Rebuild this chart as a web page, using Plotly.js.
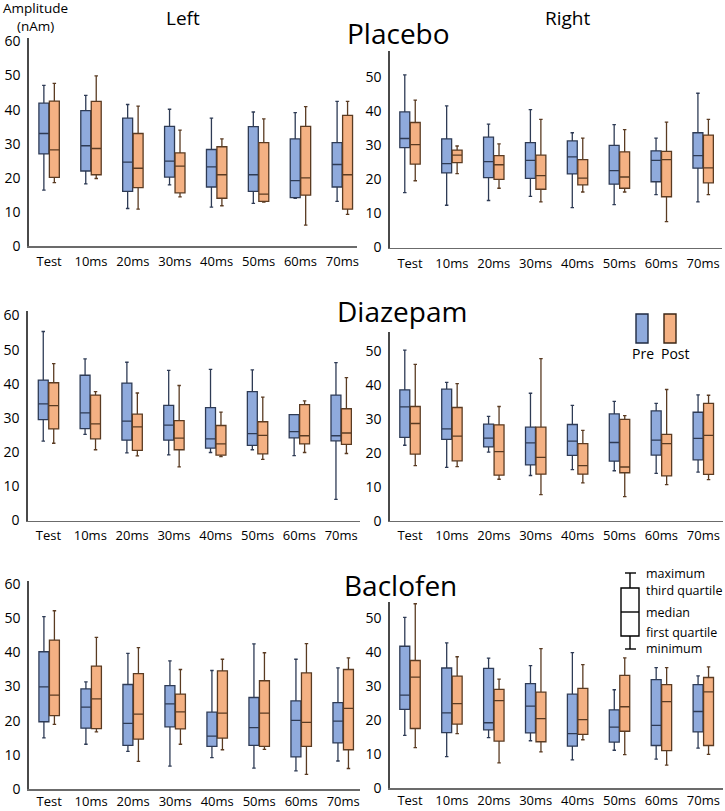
<!DOCTYPE html>
<html>
<head>
<meta charset="utf-8">
<script src="https://cdn.plot.ly/plotly-3.0.1.min.js"></script>
<style>html,body{margin:0;padding:0;background:#fff;}#chart{width:725px;height:811px;}</style>
</head>
<body>
<div id="chart"></div>
<script>
// ---------- DATA ----------
const categories = ["Test", "10ms", "20ms", "30ms", "40ms", "50ms", "60ms", "70ms"];
const seriesNames = ["Pre", "Post"];
const panelTitles = ["Placebo", "Diazepam", "Baclofen"];
const sideTitles = ["Left", "Right"];
const leftTicks = [0, 10, 20, 30, 40, 50, 60];
const rightTicks = [0, 10, 20, 30, 40, 50];
const keyLabels = ["maximum", "third quartile", "median", "first quartile", "minimum"];

// Placebo - Left
const placeboLeftPreMax = [47.1, 44.2, 41.5, 40.1, 37.5, 39.3, 39.1, 42.4];
const placeboLeftPreQ3  = [41.9, 39.7, 37.5, 35.1, 28.3, 35.0, 31.4, 30.3];
const placeboLeftPreMed = [33.0, 29.4, 24.6, 24.9, 23.2, 20.9, 19.2, 23.9];
const placeboLeftPreQ1  = [27.0, 22.0, 16.0, 20.2, 17.3, 16.0, 14.2, 17.3];
const placeboLeftPreMin = [16.4, 18.2, 11.0, 17.9, 11.4, 12.5, 14.0, 13.1];
const placeboLeftPostMax = [47.7, 49.9, 41.0, 34.0, 31.4, 37.3, 40.9, 42.4];
const placeboLeftPostQ3  = [42.5, 42.4, 33.0, 27.3, 29.1, 30.3, 35.1, 38.3];
const placeboLeftPostMed = [28.2, 28.6, 22.8, 23.4, 20.9, 15.2, 20.0, 20.9];
const placeboLeftPostQ1  = [20.1, 20.9, 17.1, 15.6, 14.0, 13.1, 14.9, 10.8];
const placeboLeftPostMin = [18.6, 19.8, 10.8, 14.4, 11.8, 12.9, 6.1, 9.3];

// Placebo - Right
const placeboRightPreMax = [50.7, 41.6, 36.2, 40.5, 33.7, 36.1, 32.1, 45.3];
const placeboRightPreQ3  = [39.8, 31.9, 32.4, 30.8, 31.3, 30.0, 28.4, 33.7];
const placeboRightPreMed = [32.0, 24.6, 25.2, 25.6, 26.6, 22.6, 25.6, 27.0];
const placeboRightPreQ1  = [29.3, 21.9, 20.5, 20.3, 21.6, 18.6, 19.3, 23.3];
const placeboRightPreMin = [16.1, 12.4, 13.8, 15.0, 11.7, 12.6, 15.5, 13.4];
const placeboRightPostMax = [43.3, 29.8, 30.4, 37.6, 32.1, 34.6, 36.8, 37.6];
const placeboRightPostQ3  = [36.7, 28.6, 27.0, 27.1, 25.8, 28.1, 28.2, 33.0];
const placeboRightPostMed = [30.2, 27.1, 24.3, 21.1, 20.4, 20.7, 25.8, 23.4];
const placeboRightPostQ1  = [24.5, 24.9, 20.0, 17.1, 18.4, 17.4, 14.9, 19.0];
const placeboRightPostMin = [19.6, 21.7, 17.4, 13.4, 16.3, 16.3, 7.6, 15.5];

// Diazepam - Left
const diazepamLeftPreMax = [55.3, 47.3, 46.3, 43.9, 44.2, 44.1, 31.0, 46.2];
const diazepamLeftPreQ3  = [41.1, 42.5, 40.2, 33.7, 33.0, 37.7, 31.0, 36.7];
const diazepamLeftPreMed = [34.1, 31.5, 29.1, 27.9, 23.9, 25.4, 26.0, 24.8];
const diazepamLeftPreQ1  = [29.5, 26.9, 23.5, 23.5, 21.2, 22.0, 24.2, 23.3];
const diazepamLeftPreMin = [23.2, 25.2, 19.8, 19.2, 19.9, 20.7, 19.0, 6.2];
const diazepamLeftPostMax = [45.9, 37.7, 37.3, 39.5, 31.7, 36.1, 35.0, 41.8];
const diazepamLeftPostQ3  = [40.3, 36.7, 31.1, 29.2, 27.8, 28.9, 33.9, 32.7];
const diazepamLeftPostMed = [33.6, 28.3, 27.4, 24.1, 22.4, 24.9, 24.8, 25.6];
const diazepamLeftPostQ1  = [26.8, 23.9, 20.5, 20.7, 19.1, 19.5, 22.4, 22.3];
const diazepamLeftPostMin = [22.6, 20.7, 18.9, 15.7, 18.7, 17.9, 19.9, 19.6];

// Diazepam - Right
const diazepamRightPreMax = [50.2, 40.7, 30.7, 37.5, 33.9, 35.1, 34.5, 37.0];
const diazepamRightPreQ3  = [38.5, 38.7, 28.4, 27.5, 28.3, 31.4, 32.3, 31.9];
const diazepamRightPreMed = [33.5, 27.0, 24.3, 22.9, 23.4, 23.0, 23.7, 24.2];
const diazepamRightPreQ1  = [24.5, 23.9, 21.7, 16.4, 19.2, 17.5, 19.3, 17.9];
const diazepamRightPreMin = [22.2, 15.7, 20.2, 13.3, 15.0, 14.7, 13.9, 14.3];
const diazepamRightPostMax = [46.0, 40.3, 33.6, 47.7, 26.6, 30.9, 38.6, 36.9];
const diazepamRightPostQ3  = [33.6, 33.3, 28.2, 27.5, 22.7, 29.8, 25.4, 34.5];
const diazepamRightPostMed = [28.6, 24.9, 20.3, 18.6, 16.2, 15.8, 22.7, 25.1];
const diazepamRightPostQ1  = [19.6, 17.6, 13.4, 13.7, 13.7, 14.1, 13.2, 13.6];
const diazepamRightPostMin = [16.2, 15.9, 12.2, 7.7, 11.1, 7.1, 10.6, 12.1];

// Baclofen - Left
const baclofenLeftPreMax = [50.5, 31.4, 39.7, 37.5, 34.7, 42.5, 38.0, 35.5];
const baclofenLeftPreQ3  = [40.2, 29.3, 30.6, 30.3, 22.5, 26.8, 25.8, 25.3];
const baclofenLeftPreMed = [29.9, 24.0, 19.2, 24.9, 15.5, 18.0, 20.1, 19.9];
const baclofenLeftPreQ1  = [19.7, 17.8, 12.8, 18.2, 12.5, 12.8, 9.4, 13.5];
const baclofenLeftPreMin = [15.0, 13.1, 11.0, 6.7, 9.2, 6.1, 5.3, 8.2];
const baclofenLeftPostMax = [52.2, 44.4, 41.4, 35.0, 38.0, 39.9, 42.6, 38.4];
const baclofenLeftPostQ3  = [43.6, 36.0, 33.8, 27.8, 34.6, 31.7, 34.0, 35.0];
const baclofenLeftPostMed = [27.5, 26.4, 21.9, 22.6, 22.2, 22.2, 19.5, 23.6];
const baclofenLeftPostQ1  = [21.5, 17.7, 14.6, 17.6, 14.9, 12.5, 12.5, 11.5];
const baclofenLeftPostMin = [18.9, 16.7, 8.1, 13.1, 11.5, 11.6, 4.3, 6.0];

// Baclofen - Right
const baclofenRightPreMax = [50.2, 42.7, 38.2, 36.0, 39.8, 28.9, 35.4, 33.0];
const baclofenRightPreQ3  = [41.7, 35.3, 35.2, 30.7, 27.6, 23.0, 31.9, 30.4];
const baclofenRightPreMed = [27.3, 22.1, 19.2, 24.1, 16.0, 17.9, 18.4, 22.5];
const baclofenRightPreQ1  = [23.1, 16.3, 17.1, 16.2, 12.3, 13.5, 12.5, 16.5];
const baclofenRightPreMin = [15.5, 9.2, 14.8, 13.9, 8.3, 11.1, 8.5, 11.7];
const baclofenRightPostMax = [54.2, 38.6, 32.0, 41.0, 36.3, 38.3, 35.4, 35.6];
const baclofenRightPostQ3  = [37.5, 32.9, 29.0, 28.2, 29.3, 33.1, 30.4, 32.5];
const baclofenRightPostMed = [32.6, 24.8, 25.7, 20.4, 20.1, 23.9, 25.4, 28.3];
const baclofenRightPostQ1  = [17.5, 18.8, 13.8, 13.6, 15.8, 16.7, 11.0, 12.5];
const baclofenRightPostMin = [11.9, 16.0, 7.4, 10.6, 14.2, 9.8, 6.7, 9.9];

// ---------- STYLE ----------
const FONT = "Open Sans, Noto Sans, sans-serif";
const preFill = "#8FAADC", preLine = "#2E3B55";
const postFill = "#F4B183", postLine = "#5A3B22";
const W = 725, H = 811;
const px = x => x / W;
const py = y => 1 - y / H;

function boxTrace(name, xa, ya, mn, q1, md, q3, mx, fill, line) {
  return {
    type: "box", name: name, x: categories,
    lowerfence: mn, q1: q1, median: md, q3: q3, upperfence: mx,
    xaxis: xa, yaxis: ya, boxpoints: false,
    alignmentgroup: xa, offsetgroup: name,
    fillcolor: fill, line: {color: line, width: 1.3},
    whiskerwidth: 0.35, showlegend: false, hoverinfo: "y"
  };
}

const data = [
  boxTrace("Pre", "x", "y", placeboLeftPreMin, placeboLeftPreQ1, placeboLeftPreMed, placeboLeftPreQ3, placeboLeftPreMax, preFill, preLine),
  boxTrace("Post", "x", "y", placeboLeftPostMin, placeboLeftPostQ1, placeboLeftPostMed, placeboLeftPostQ3, placeboLeftPostMax, postFill, postLine),
  boxTrace("Pre", "x2", "y2", placeboRightPreMin, placeboRightPreQ1, placeboRightPreMed, placeboRightPreQ3, placeboRightPreMax, preFill, preLine),
  boxTrace("Post", "x2", "y2", placeboRightPostMin, placeboRightPostQ1, placeboRightPostMed, placeboRightPostQ3, placeboRightPostMax, postFill, postLine),
  boxTrace("Pre", "x3", "y3", diazepamLeftPreMin, diazepamLeftPreQ1, diazepamLeftPreMed, diazepamLeftPreQ3, diazepamLeftPreMax, preFill, preLine),
  boxTrace("Post", "x3", "y3", diazepamLeftPostMin, diazepamLeftPostQ1, diazepamLeftPostMed, diazepamLeftPostQ3, diazepamLeftPostMax, postFill, postLine),
  boxTrace("Pre", "x4", "y4", diazepamRightPreMin, diazepamRightPreQ1, diazepamRightPreMed, diazepamRightPreQ3, diazepamRightPreMax, preFill, preLine),
  boxTrace("Post", "x4", "y4", diazepamRightPostMin, diazepamRightPostQ1, diazepamRightPostMed, diazepamRightPostQ3, diazepamRightPostMax, postFill, postLine),
  boxTrace("Pre", "x5", "y5", baclofenLeftPreMin, baclofenLeftPreQ1, baclofenLeftPreMed, baclofenLeftPreQ3, baclofenLeftPreMax, preFill, preLine),
  boxTrace("Post", "x5", "y5", baclofenLeftPostMin, baclofenLeftPostQ1, baclofenLeftPostMed, baclofenLeftPostQ3, baclofenLeftPostMax, postFill, postLine),
  boxTrace("Pre", "x6", "y6", baclofenRightPreMin, baclofenRightPreQ1, baclofenRightPreMed, baclofenRightPreQ3, baclofenRightPreMax, preFill, preLine),
  boxTrace("Post", "x6", "y6", baclofenRightPostMin, baclofenRightPostQ1, baclofenRightPostMed, baclofenRightPostQ3, baclofenRightPostMax, postFill, postLine)
];

function xAxis(anchor, d0, d1, r0, r1, standoff) {
  return {
    anchor: anchor, domain: [px(d0), px(d1)], type: "category",
    categoryorder: "array", categoryarray: categories, range: [r0, r1],
    showline: true, linecolor: "#6b6b6b", linewidth: 1.6, showgrid: false,
    zeroline: false, ticks: "", ticklabelstandoff: standoff,
    tickfont: {family: FONT, size: 13, color: "#000"}, fixedrange: true
  };
}
function yAxis(anchor, top, bottom, rmax, ticks) {
  return {
    anchor: anchor, domain: [py(bottom), py(top)], range: [0, rmax],
    tickmode: "array", tickvals: ticks, ticktext: ticks.map(String),
    showline: true, linecolor: "#4a4a4a", linewidth: 1.6, showgrid: false,
    zeroline: false, ticks: "", ticklabelstandoff: 4,
    tickfont: {family: FONT, size: 14, color: "#000"}, fixedrange: true
  };
}

const annotations = [];
function addText(text, x, y, size, xanchor) {
  annotations.push({
    text: text, xref: "paper", yref: "paper", x: px(x), y: py(y),
    xanchor: xanchor || "center", yanchor: "middle", showarrow: false,
    borderpad: 0,
    font: {family: FONT, size: size, color: "#000"}
  });
}
addText("Amplitude", 35, 8, 13.5);
addText("(nAm)", 35, 26, 13.5);
addText(sideTitles[0], 183, 18, 19);
addText(sideTitles[1], 567, 18, 19);
addText(panelTitles[0], 399, 33, 28);
addText(panelTitles[1], 402, 311, 28);
addText(panelTitles[2], 400, 585, 28);
addText(seriesNames[0], 643, 353, 14);
addText(seriesNames[1], 675, 353, 14);
const keyY = [573, 590, 612, 632, 648];
keyLabels.forEach((t, i) => addText(t, 645, keyY[i], 12.5, "left"));

const shapes = [];
function rect(x0, y0, x1, y1, fill, line) {
  shapes.push({type: "rect", xref: "paper", yref: "paper",
    x0: px(x0), x1: px(x1), y0: py(y1), y1: py(y0),
    fillcolor: fill, line: {color: line, width: 1.4}});
}
function seg(x0, y0, x1, y1) {
  shapes.push({type: "line", xref: "paper", yref: "paper",
    x0: px(x0), x1: px(x1), y0: py(y0), y1: py(y1),
    line: {color: "#000", width: 1.4}});
}
// Pre / Post legend swatches
rect(636, 314, 648, 343, preFill, "#1f2a40");
rect(664, 314, 676, 343, postFill, "#3b2614");
// box key
seg(630, 573, 630, 588);
seg(625, 573, 636, 573);
seg(630, 636, 630, 649);
seg(625, 649, 636, 649);
rect(621, 588, 639, 636, "rgba(255,255,255,0)", "#000");
seg(621, 612, 639, 612);

const layout = {
  width: W, height: H, margin: {l: 0, r: 0, t: 0, b: 0},
  paper_bgcolor: "#fff", plot_bgcolor: "#fff",
  font: {family: FONT, color: "#000"},
  boxmode: "group", boxgap: 0.5, boxgroupgap: 0.05, showlegend: false,
  xaxis: xAxis("y", 29, 357, -0.48, 7.35, 3),
  yaxis: yAxis("x", 38, 246, 61.0, leftTicks),
  xaxis2: xAxis("y2", 390, 722, -0.478, 7.45, 3),
  yaxis2: yAxis("x2", 51, 247.5, 57.7, rightTicks),
  xaxis3: xAxis("y3", 28, 360, -0.49, 7.45, 2),
  yaxis3: yAxis("x3", 311, 520.5, 61.3, leftTicks),
  xaxis4: xAxis("y4", 390, 723, -0.478, 7.47, 2),
  yaxis4: yAxis("x4", 331.7, 520.7, 55.6, rightTicks),
  xaxis5: xAxis("y5", 29, 360, -0.48, 7.4, 0),
  yaxis5: yAxis("x5", 580.7, 789, 61.0, leftTicks),
  xaxis6: xAxis("y6", 390, 723, -0.478, 7.47, 0),
  yaxis6: yAxis("x6", 601.7, 788, 54.8, rightTicks),
  annotations: annotations, shapes: shapes
};

Plotly.newPlot("chart", data, layout, {displayModeBar: false, staticPlot: true});
</script>
</body>
</html>
